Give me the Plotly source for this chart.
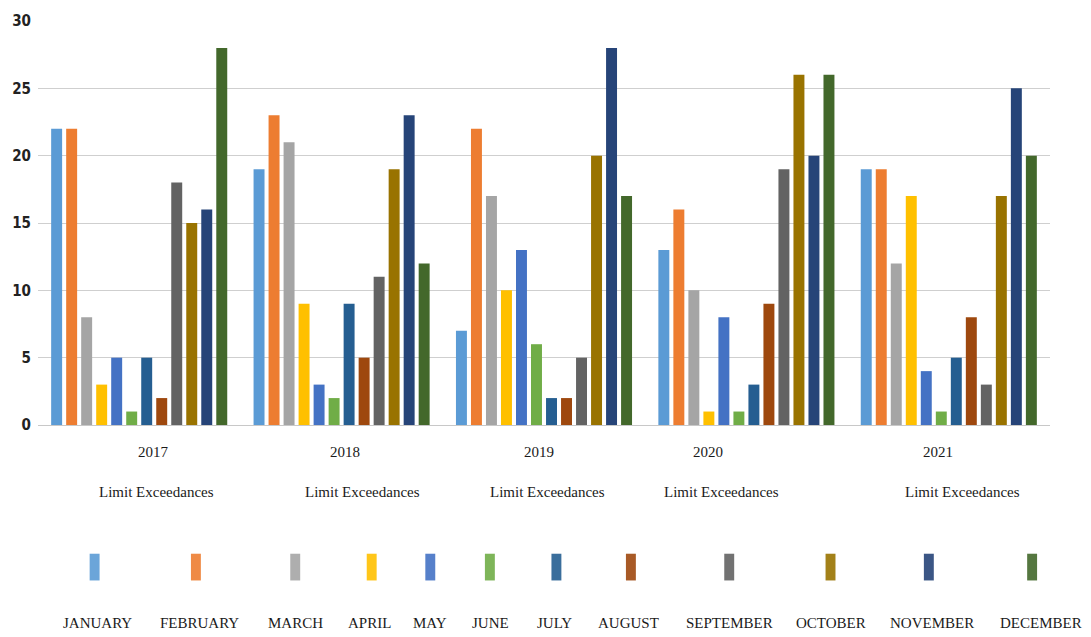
import plotly.graph_objects as go

# Monthly limit exceedances per year
years = ["2017", "2018", "2019", "2020", "2021"]
months = ["JANUARY", "FEBRUARY", "MARCH", "APRIL", "MAY", "JUNE",
          "JULY", "AUGUST", "SEPTEMBER", "OCTOBER", "NOVEMBER", "DECEMBER"]

january = [22, 19, 7, 13, 19]
february = [22, 23, 22, 16, 19]
march = [8, 21, 17, 10, 12]
april = [3, 9, 10, 1, 17]
may = [5, 3, 13, 8, 4]
june = [1, 2, 6, 1, 1]
july = [5, 9, 2, 3, 5]
august = [2, 5, 2, 9, 8]
september = [18, 11, 5, 19, 3]
october = [15, 19, 20, 26, 17]
november = [16, 23, 28, 20, 25]
december = [28, 12, 17, 26, 20]

series = [january, february, march, april, may, june,
          july, august, september, october, november, december]

colors = ["#5B9BD5", "#ED7D31", "#A5A5A5", "#FFC000", "#4472C4", "#70AD47",
          "#255E91", "#9E480E", "#636363", "#997300", "#264478", "#43682B"]

sub_label = "Limit Exceedances"

# page geometry (pixels)
W, H = 1091, 637
ML, MR, MT, MB = 31, 41, 17, 212
PW = W - ML - MR
PH = H - MT - MB


def px(xp):
    return (xp - ML) / PW


def py(yp):
    return (H - MB - yp) / PH


fig = go.Figure()
for name, vals, col in zip(months, series, colors):
    fig.add_trace(go.Bar(x=years, y=vals, name=name, marker_color=col,
                         marker_line_width=0, showlegend=False))

serif = "Liberation Serif, Times New Roman, serif"
label_font = dict(family=serif, size=15, color="#1a1a1a")
annotations = []
shapes = []

# year labels and category captions under each group
year_label_x = [147, 340, 535, 706, 937]
caption_x = [150, 358, 544, 719, 962]
for yr, xl in zip(years, year_label_x):
    annotations.append(dict(text=yr, x=px(xl), y=py(452), xref="paper", yref="paper",
                            showarrow=False, xanchor="center", yanchor="middle",
                            font=label_font))
for xl in caption_x:
    annotations.append(dict(text=sub_label, x=px(xl), y=py(493), xref="paper", yref="paper",
                            showarrow=False, xanchor="center", yanchor="middle",
                            font=label_font))

# legend: swatch above each month name
swatch_x = [88, 190, 290, 367, 426, 486, 553, 628, 727, 829, 928, 1032]
label_x = [91, 194, 290, 365, 426, 487, 551, 626, 727, 829, 931, 1041]
for name, col, sx, lx in zip(months, colors, swatch_x, label_x):
    shapes.append(dict(type="rect", xref="paper", yref="paper",
                       x0=px(sx - 5), x1=px(sx + 5), y0=py(582), y1=py(555),
                       fillcolor=col, line=dict(width=0), layer="above", opacity=0.9))
    annotations.append(dict(text=name, x=px(lx), y=py(625), xref="paper", yref="paper",
                            showarrow=False, xanchor="center", yanchor="middle",
                            font=label_font))

fig.update_layout(
    width=W, height=H,
    margin=dict(l=ML, r=MR, t=MT, b=MB, pad=0),
    paper_bgcolor="white", plot_bgcolor="white",
    barmode="group", bargap=0.11, bargroupgap=0.27,
    annotations=annotations, shapes=shapes,
    xaxis=dict(type="category", showticklabels=False, showgrid=False,
               zeroline=False, showline=True, linecolor="#c8c8c8", linewidth=1,
               ticks=""),
    yaxis=dict(range=[0, 30], dtick=5, showgrid=True, gridcolor="#cfcfcf",
               gridwidth=1, zeroline=False, showline=False, ticks="",
               tickfont=dict(family="DejaVu Sans Condensed, Liberation Sans Narrow, sans-serif",
                             size=15, color="#222", weight="bold"),
               ticklabelstandoff=6),
)

fig.write_html("out.html")
